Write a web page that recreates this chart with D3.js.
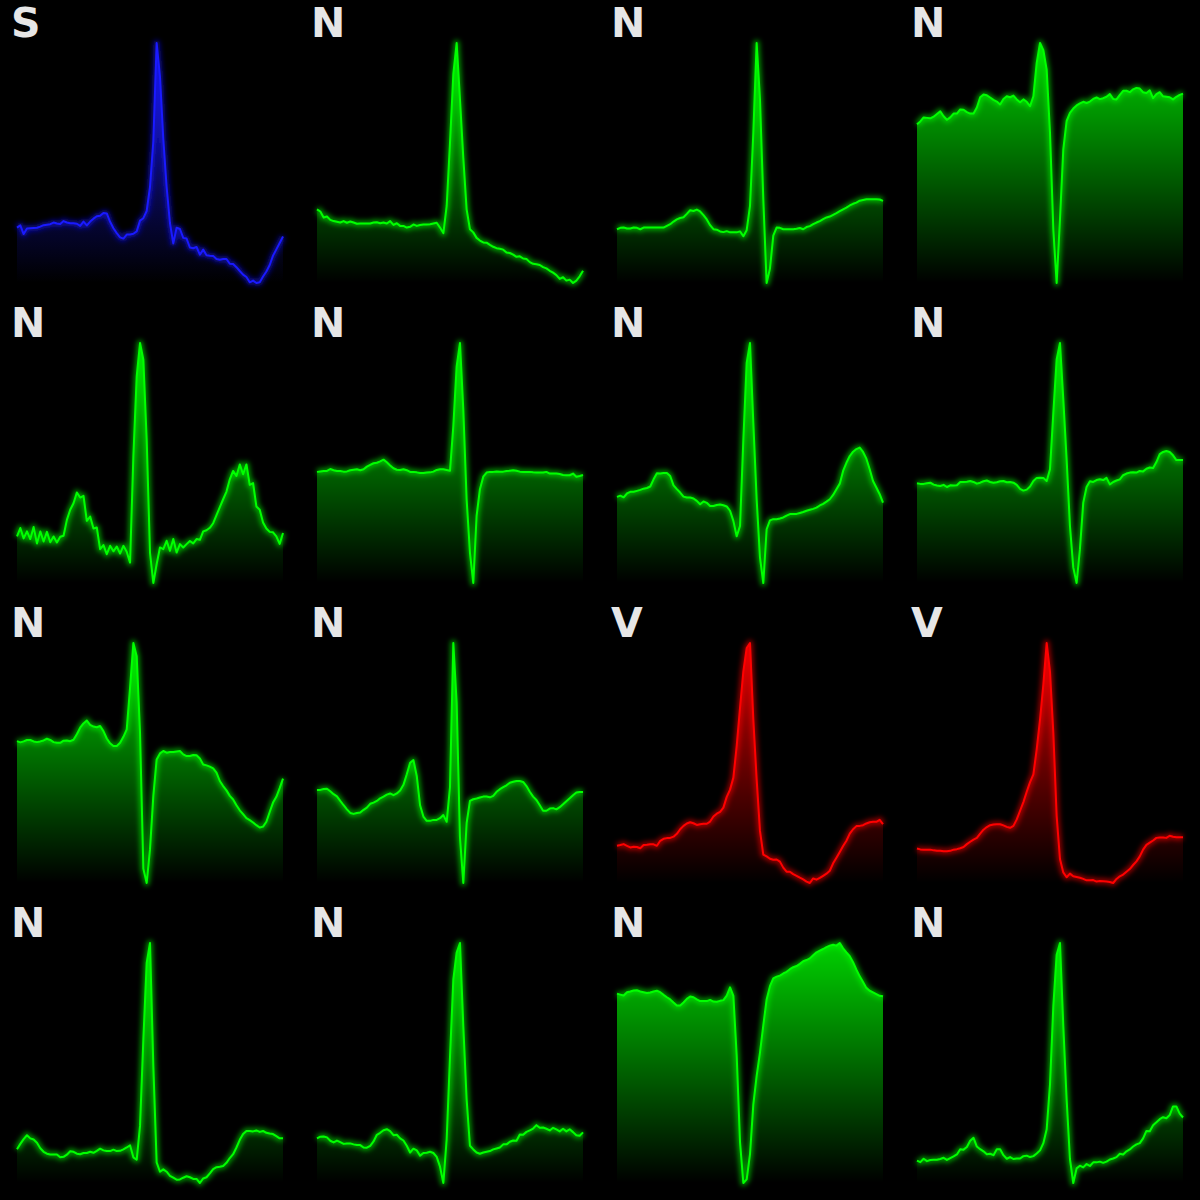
<!DOCTYPE html>
<html><head><meta charset="utf-8">
<script src="https://cdn.jsdelivr.net/npm/d3@7"></script>
<style>html,body{margin:0;padding:0;background:#000;}svg{display:block;}</style>
</head><body>
<div id="chart"></div>
<script>
// Beat class shown in each panel (row by row)
const labels = ["S","N","N","N","N","N","N","N","N","N","V","V","N","N","N","N"];
const classColors = {S:"#1a1aff", N:"#00ff00", V:"#ff0000"};

// Normalised amplitude (0..1) of each heartbeat, evenly spaced samples
const beat01 = [0.231,0.240,0.204,0.227,0.228,0.229,0.230,0.235,0.241,0.243,
0.245,0.252,0.248,0.246,0.258,0.252,0.249,0.249,0.247,0.238,
0.256,0.240,0.256,0.268,0.278,0.280,0.292,0.290,0.255,0.228,
0.208,0.190,0.185,0.202,0.202,0.205,0.215,0.260,0.270,0.300,
0.400,0.590,1.000,0.860,0.600,0.400,0.250,0.165,0.230,0.225,
0.188,0.185,0.148,0.145,0.150,0.118,0.139,0.116,0.114,0.113,
0.100,0.097,0.100,0.100,0.080,0.079,0.066,0.050,0.035,0.025,
0.003,0.010,0.000,0.003,0.027,0.048,0.075,0.114,0.140,0.167,
0.194];
const beat02 = [0.307,0.298,0.273,0.277,0.263,0.258,0.255,0.252,0.258,0.251,
0.256,0.252,0.247,0.248,0.248,0.248,0.248,0.252,0.253,0.249,
0.252,0.248,0.258,0.242,0.249,0.238,0.238,0.231,0.234,0.244,
0.238,0.242,0.244,0.244,0.245,0.248,0.251,0.231,0.208,0.321,
0.584,0.870,1.000,0.765,0.522,0.307,0.224,0.211,0.188,0.177,
0.169,0.168,0.159,0.151,0.145,0.143,0.139,0.127,0.125,0.118,
0.109,0.111,0.102,0.100,0.087,0.080,0.078,0.075,0.066,0.061,
0.051,0.043,0.033,0.017,0.024,0.010,0.014,0.000,0.010,0.028,
0.051];
const beat03 = [0.224,0.230,0.231,0.227,0.227,0.231,0.230,0.224,0.231,0.231,
0.231,0.231,0.231,0.231,0.231,0.238,0.245,0.256,0.265,0.271,
0.274,0.288,0.303,0.300,0.306,0.298,0.283,0.265,0.241,0.224,
0.222,0.215,0.212,0.216,0.211,0.211,0.211,0.215,0.195,0.220,
0.321,0.626,1.000,0.765,0.350,0.000,0.060,0.197,0.231,0.230,
0.224,0.224,0.224,0.224,0.226,0.229,0.224,0.233,0.237,0.245,
0.252,0.258,0.266,0.273,0.277,0.284,0.291,0.299,0.307,0.314,
0.323,0.330,0.335,0.343,0.346,0.349,0.349,0.349,0.349,0.348,
0.342];
const beat04 = [0.661,0.673,0.690,0.688,0.686,0.693,0.704,0.715,0.695,0.680,
0.690,0.706,0.706,0.723,0.722,0.712,0.706,0.706,0.731,0.774,
0.785,0.782,0.773,0.763,0.756,0.744,0.767,0.778,0.774,0.781,
0.765,0.753,0.765,0.755,0.737,0.778,0.917,1.000,0.970,0.889,
0.626,0.224,0.000,0.266,0.557,0.675,0.709,0.727,0.740,0.748,
0.755,0.750,0.756,0.767,0.773,0.766,0.770,0.776,0.787,0.767,
0.765,0.784,0.801,0.801,0.795,0.807,0.813,0.810,0.795,0.792,
0.803,0.770,0.787,0.795,0.778,0.776,0.774,0.765,0.776,0.784,
0.789];
const beat05 = [0.194,0.229,0.186,0.215,0.183,0.233,0.165,0.215,0.173,0.213,
0.170,0.194,0.169,0.193,0.197,0.263,0.305,0.332,0.377,0.356,
0.363,0.259,0.277,0.227,0.231,0.141,0.158,0.120,0.155,0.132,
0.152,0.123,0.155,0.130,0.085,0.529,0.861,1.000,0.930,0.598,
0.127,0.000,0.079,0.148,0.141,0.176,0.134,0.183,0.127,0.162,
0.148,0.162,0.175,0.165,0.183,0.180,0.215,0.220,0.230,0.249,
0.283,0.316,0.349,0.381,0.432,0.467,0.446,0.494,0.453,0.494,
0.409,0.416,0.319,0.305,0.252,0.227,0.213,0.211,0.194,0.163,
0.208];
const beat06 = [0.463,0.465,0.467,0.467,0.475,0.470,0.467,0.467,0.464,0.465,
0.470,0.472,0.474,0.470,0.474,0.485,0.492,0.499,0.501,0.507,
0.514,0.503,0.490,0.478,0.472,0.471,0.474,0.470,0.463,0.463,
0.461,0.458,0.458,0.460,0.461,0.464,0.471,0.474,0.474,0.471,
0.468,0.654,0.903,1.000,0.723,0.349,0.127,0.000,0.280,0.391,
0.443,0.460,0.463,0.463,0.465,0.464,0.464,0.467,0.468,0.470,
0.468,0.464,0.463,0.463,0.463,0.461,0.460,0.460,0.460,0.463,
0.456,0.456,0.456,0.454,0.450,0.449,0.449,0.456,0.443,0.446,
0.450];
const beat07 = [0.359,0.364,0.357,0.373,0.380,0.380,0.384,0.388,0.393,0.396,
0.402,0.432,0.457,0.456,0.458,0.458,0.446,0.407,0.391,0.377,
0.360,0.356,0.356,0.352,0.342,0.328,0.340,0.334,0.321,0.321,
0.325,0.327,0.324,0.319,0.301,0.259,0.195,0.238,0.598,0.917,
1.000,0.668,0.349,0.107,0.000,0.224,0.261,0.266,0.266,0.269,
0.273,0.281,0.287,0.287,0.288,0.292,0.296,0.301,0.305,0.309,
0.314,0.323,0.330,0.339,0.349,0.367,0.391,0.414,0.467,0.501,
0.529,0.547,0.558,0.564,0.546,0.518,0.474,0.425,0.398,0.370,
0.335];
const beat08 = [0.416,0.413,0.413,0.416,0.418,0.410,0.406,0.404,0.409,0.400,
0.407,0.406,0.407,0.421,0.421,0.422,0.425,0.421,0.414,0.418,
0.424,0.427,0.421,0.418,0.420,0.424,0.425,0.420,0.421,0.418,
0.409,0.392,0.385,0.389,0.402,0.425,0.438,0.439,0.438,0.425,
0.474,0.709,0.931,1.000,0.765,0.515,0.238,0.065,0.000,0.141,
0.335,0.400,0.424,0.421,0.429,0.432,0.429,0.438,0.411,0.421,
0.427,0.432,0.449,0.456,0.460,0.461,0.460,0.467,0.465,0.476,
0.481,0.479,0.504,0.537,0.546,0.550,0.546,0.532,0.512,0.512,
0.512];
const beat09 = [0.591,0.586,0.590,0.596,0.596,0.590,0.587,0.590,0.594,0.601,
0.596,0.587,0.584,0.584,0.593,0.594,0.591,0.597,0.620,0.647,
0.665,0.677,0.659,0.652,0.649,0.654,0.633,0.602,0.582,0.571,
0.571,0.584,0.609,0.640,0.813,1.000,0.945,0.626,0.060,0.000,
0.141,0.363,0.515,0.540,0.550,0.543,0.546,0.546,0.548,0.550,
0.536,0.529,0.529,0.533,0.532,0.519,0.494,0.490,0.485,0.478,
0.460,0.425,0.404,0.386,0.363,0.348,0.324,0.303,0.287,0.270,
0.262,0.252,0.241,0.231,0.235,0.255,0.296,0.335,0.359,0.395,
0.435];
const beat10 = [0.388,0.388,0.392,0.393,0.382,0.370,0.361,0.342,0.324,0.307,
0.292,0.288,0.292,0.294,0.305,0.314,0.330,0.335,0.342,0.353,
0.360,0.368,0.373,0.366,0.373,0.385,0.409,0.453,0.501,0.512,
0.446,0.324,0.277,0.259,0.259,0.263,0.263,0.270,0.283,0.255,
0.400,1.000,0.750,0.190,0.000,0.250,0.342,0.349,0.352,0.356,
0.360,0.360,0.357,0.363,0.380,0.391,0.399,0.407,0.418,0.422,
0.425,0.425,0.421,0.404,0.380,0.360,0.346,0.324,0.301,0.301,
0.310,0.312,0.307,0.316,0.328,0.341,0.353,0.366,0.377,0.379,
0.379];
const beat11 = [0.155,0.158,0.162,0.155,0.148,0.151,0.150,0.145,0.158,0.159,
0.161,0.161,0.155,0.176,0.184,0.187,0.188,0.193,0.205,0.224,
0.238,0.248,0.253,0.249,0.242,0.245,0.247,0.247,0.256,0.277,
0.289,0.296,0.314,0.359,0.389,0.439,0.571,0.730,0.882,0.979,
1.000,0.681,0.432,0.217,0.118,0.111,0.101,0.097,0.098,0.089,
0.064,0.047,0.047,0.037,0.030,0.022,0.015,0.006,0.000,0.019,
0.014,0.021,0.030,0.039,0.051,0.082,0.105,0.129,0.154,0.176,
0.206,0.224,0.237,0.238,0.241,0.248,0.253,0.255,0.255,0.263,
0.245];
const beat12 = [0.144,0.140,0.139,0.139,0.139,0.136,0.134,0.134,0.132,0.132,
0.134,0.139,0.141,0.145,0.150,0.162,0.172,0.181,0.188,0.206,
0.222,0.233,0.241,0.244,0.245,0.245,0.240,0.234,0.230,0.238,
0.265,0.301,0.337,0.380,0.420,0.453,0.557,0.681,0.827,1.000,
0.880,0.626,0.280,0.100,0.044,0.024,0.039,0.028,0.025,0.022,
0.017,0.011,0.011,0.012,0.006,0.008,0.007,0.006,0.004,0.000,
0.017,0.028,0.035,0.047,0.058,0.075,0.090,0.111,0.139,0.159,
0.168,0.177,0.188,0.190,0.190,0.188,0.197,0.193,0.191,0.191,
0.191];
const beat13 = [0.141,0.163,0.183,0.199,0.186,0.181,0.168,0.145,0.130,0.122,
0.119,0.119,0.119,0.107,0.109,0.118,0.132,0.130,0.122,0.120,
0.125,0.125,0.130,0.126,0.134,0.143,0.136,0.133,0.133,0.139,
0.133,0.134,0.140,0.148,0.157,0.107,0.097,0.238,0.598,0.917,
1.000,0.488,0.086,0.047,0.057,0.047,0.030,0.022,0.014,0.015,
0.022,0.028,0.024,0.017,0.017,0.000,0.019,0.024,0.040,0.058,
0.066,0.068,0.071,0.084,0.104,0.120,0.148,0.180,0.204,0.217,
0.217,0.215,0.219,0.213,0.217,0.209,0.206,0.204,0.195,0.186,
0.186];
const beat14 = [0.186,0.193,0.194,0.190,0.176,0.169,0.177,0.170,0.163,0.165,
0.165,0.161,0.158,0.158,0.148,0.147,0.155,0.173,0.201,0.209,
0.220,0.224,0.216,0.199,0.201,0.186,0.177,0.155,0.127,0.143,
0.136,0.114,0.125,0.126,0.130,0.125,0.109,0.068,0.000,0.183,
0.526,0.848,0.960,1.000,0.654,0.349,0.155,0.140,0.127,0.122,
0.127,0.130,0.133,0.140,0.144,0.148,0.161,0.161,0.172,0.177,
0.176,0.202,0.201,0.213,0.219,0.227,0.241,0.230,0.231,0.226,
0.219,0.230,0.223,0.215,0.226,0.215,0.224,0.212,0.199,0.197,
0.211];
const beat15 = [0.789,0.785,0.781,0.795,0.798,0.802,0.803,0.798,0.795,0.792,
0.794,0.798,0.801,0.795,0.784,0.774,0.765,0.752,0.740,0.740,
0.752,0.767,0.777,0.774,0.765,0.758,0.758,0.758,0.763,0.756,
0.755,0.759,0.762,0.781,0.815,0.780,0.530,0.170,0.000,0.015,
0.120,0.328,0.446,0.543,0.657,0.765,0.820,0.853,0.860,0.864,
0.873,0.880,0.891,0.899,0.904,0.913,0.924,0.929,0.936,0.949,
0.961,0.968,0.975,0.983,0.989,0.993,0.989,1.000,0.978,0.961,
0.945,0.920,0.889,0.861,0.837,0.813,0.801,0.794,0.787,0.780,
0.778];
const beat16 = [0.093,0.087,0.101,0.091,0.096,0.097,0.097,0.100,0.105,0.096,
0.104,0.111,0.119,0.141,0.139,0.150,0.176,0.188,0.152,0.141,
0.132,0.120,0.122,0.116,0.141,0.141,0.116,0.101,0.108,0.100,
0.102,0.102,0.112,0.114,0.108,0.112,0.123,0.136,0.166,0.224,
0.411,0.737,0.951,1.000,0.654,0.349,0.100,0.000,0.061,0.072,
0.065,0.079,0.071,0.086,0.086,0.089,0.084,0.089,0.098,0.102,
0.108,0.122,0.119,0.132,0.140,0.152,0.161,0.166,0.186,0.217,
0.216,0.241,0.253,0.266,0.274,0.270,0.283,0.319,0.319,0.289,
0.273];

const beats = [beat01,beat02,beat03,beat04,beat05,beat06,beat07,beat08,
               beat09,beat10,beat11,beat12,beat13,beat14,beat15,beat16];

const W = 1200, H = 1200, cols = 4, cell = 300;
const m = {left:17, right:17, top:43, bottom:17};

const svg = d3.select("#chart").append("svg")
  .attr("width", W).attr("height", H)
  .style("background", "#000");
svg.append("rect").attr("width", W).attr("height", H).attr("fill", "#000");

const defs = svg.append("defs");
const glow = defs.append("filter").attr("id", "glow")
  .attr("x", "-30%").attr("y", "-10%").attr("width", "160%").attr("height", "120%");
glow.append("feGaussianBlur").attr("in", "SourceGraphic").attr("stdDeviation", 2.6);

const y = d3.scaleLinear().domain([0, 1]).range([cell - m.bottom, m.top]);

beats.forEach((vals, k) => {
  const col = k % cols, row = Math.floor(k / cols);
  const color = classColors[labels[k]];
  const g = svg.append("g").attr("transform", `translate(${col * cell},${row * cell})`);
  const x = d3.scaleLinear().domain([0, vals.length - 1]).range([m.left, cell - m.right]);

  const gid = "grad" + k;
  const grad = defs.append("linearGradient").attr("id", gid)
    .attr("gradientUnits", "userSpaceOnUse")
    .attr("x1", 0).attr("x2", 0)
    .attr("y1", y(1)).attr("y2", y(0));
  grad.append("stop").attr("offset", 0).attr("stop-color", color).attr("stop-opacity", 0.82);
  grad.append("stop").attr("offset", 1).attr("stop-color", color).attr("stop-opacity", 0);

  const area = d3.area().x((d, i) => x(i)).y0(y(0)).y1(d => y(d));
  const line = d3.line().x((d, i) => x(i)).y(d => y(d));

  g.append("path").datum(vals).attr("d", area).attr("fill", `url(#${gid})`);
  g.append("path").datum(vals).attr("d", line)
    .attr("fill", "none").attr("stroke", color).attr("stroke-width", 6)
    .attr("stroke-opacity", 0.55).attr("stroke-linejoin", "round")
    .attr("filter", "url(#glow)");
  g.append("path").datum(vals).attr("d", line)
    .attr("fill", "none").attr("stroke", color).attr("stroke-width", 2)
    .attr("stroke-linejoin", "round");

  g.append("text").attr("x", 11).attr("y", 37)
    .attr("font-family", "'DejaVu Sans', sans-serif").attr("font-weight", "bold")
    .attr("font-size", 41).attr("fill", "#e6e6e6")
    .text(labels[k]);
});
</script>
</body></html>
